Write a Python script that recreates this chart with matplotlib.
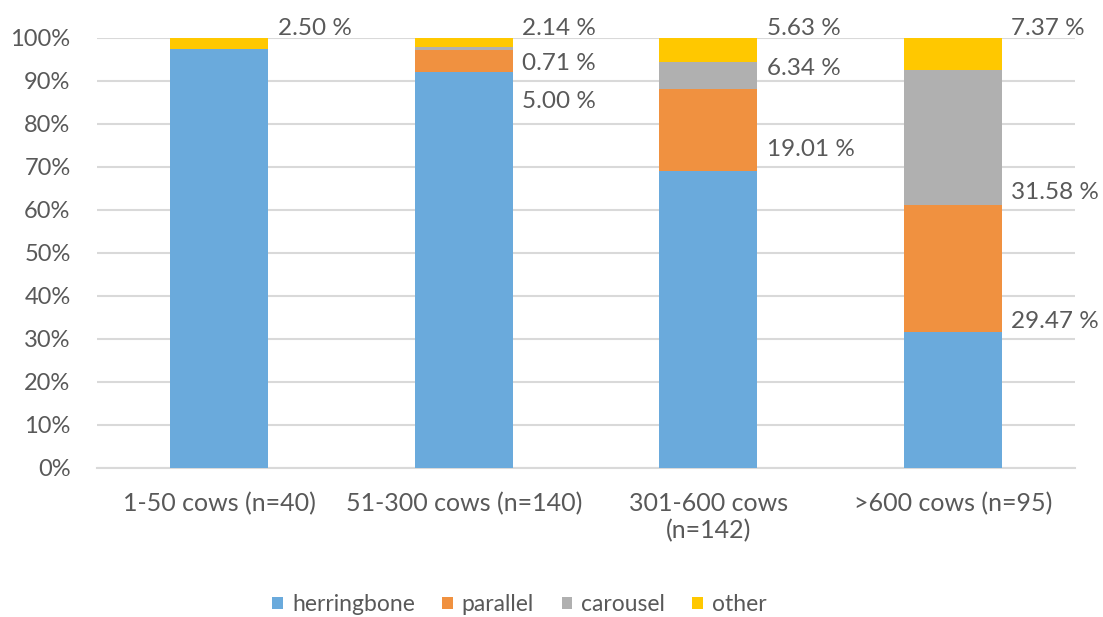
import numpy as np
import matplotlib
matplotlib.use("Agg")
import matplotlib.pyplot as plt

# herd size groups and milking parlour shares (%)
groups = ["1-50 cows (n=40)", "51-300 cows (n=140)", "301-600 cows\n(n=142)", ">600 cows (n=95)"]
herringbone = [97.50, 92.15, 69.02, 31.58]
parallel = [0.00, 5.00, 19.01, 29.47]
carousel = [0.00, 0.71, 6.34, 31.58]
other = [2.50, 2.14, 5.63, 7.37]

series = [("herringbone", herringbone, "#6AAADC"),
          ("parallel", parallel, "#F09140"),
          ("carousel", carousel, "#B0B0B0"),
          ("other", other, "#FFC800")]

# data labels: (group index, value shown, label height as fraction)
labels = [(0, other[0], 1.023),
          (1, other[1], 1.023), (1, carousel[1], 0.940), (1, parallel[1], 0.853),
          (2, other[2], 1.023), (2, carousel[2], 0.930), (2, parallel[2], 0.740),
          (3, other[3], 1.023), (3, carousel[3], 0.640), (3, parallel[3], 0.340)]

txt = "#595959"
plt.rcParams['font.family'] = ['Lato', 'DejaVu Sans']

fig = plt.figure(figsize=(11.03, 6.17), dpi=100)
ax = fig.add_axes([0.0879, 0.2415, 0.8867, 0.697])

x = np.arange(len(groups))
bottom = np.zeros(len(groups))
for name, vals, col in series:
    v = np.array(vals) / 100
    ax.bar(x, v, 0.4, bottom=bottom, color=col, label=name, zorder=3)
    bottom += v

for i, val, yy in labels:
    ax.text(i + 0.24, yy, "%.2f %%" % val, ha="left", va="center",
            fontsize=17.5, color=txt, clip_on=False)

ax.set_xlim(-0.5, 3.5)
ax.set_ylim(0, 1)
ax.set_yticks(np.arange(0, 1.01, 0.1))
ax.set_yticklabels(["%d%%" % p for p in range(0, 101, 10)])
ax.set_xticks(x)
ax.set_xticklabels(groups, linespacing=1.25)
ax.tick_params(length=0, labelcolor=txt)
ax.tick_params(axis="x", pad=17, labelsize=18)
ax.tick_params(axis="y", pad=19, labelsize=17)
ax.yaxis.grid(True, color="#D9D9D9", linewidth=1.5, zorder=0)
for s in ["top", "right", "left"]:
    ax.spines[s].set_visible(False)
ax.spines["bottom"].set_color("#D9D9D9")
ax.spines["bottom"].set_linewidth(1.5)

fig.legend(loc="center", bbox_to_anchor=(0.471, 0.02), ncol=4, frameon=False,
           fontsize=16.5, labelcolor=txt, handlelength=0.45, handleheight=0.45,
           handletextpad=0.4, columnspacing=1.2)

fig.savefig("out.png", dpi=100)
